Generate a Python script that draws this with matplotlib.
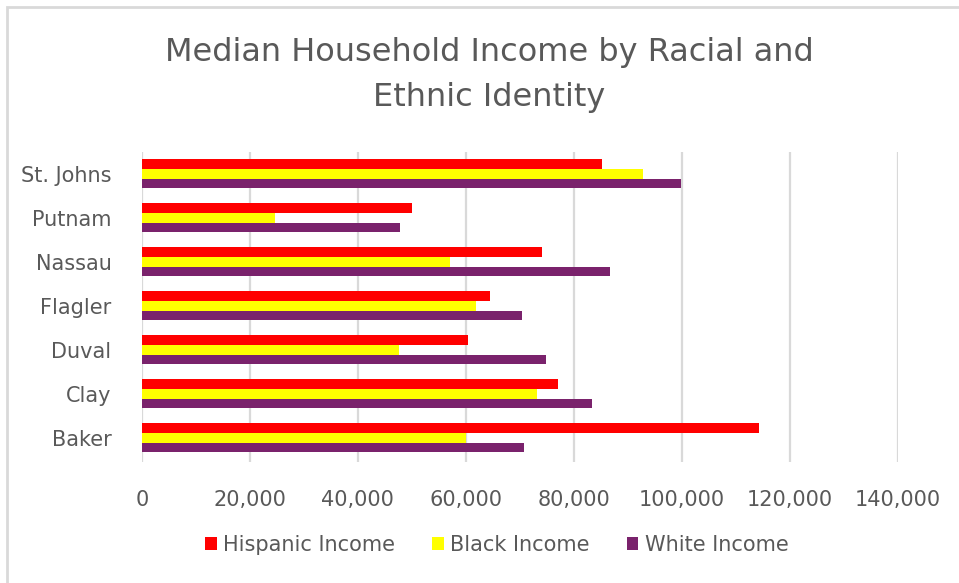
"""
Median household income by racial and ethnic identity, NE Florida counties
"""

import matplotlib.pyplot as plt
from matplotlib.patches import Rectangle
import numpy as np

counties = ["Baker", "Clay", "Duval", "Flagler", "Nassau", "Putnam", "St. Johns"]
hispanic_income = [114300, 77000, 60400, 64400, 74100, 50000, 85300]
black_income = [60100, 73200, 47600, 61800, 57000, 24600, 92800]
white_income = [70800, 83400, 74900, 70400, 86700, 47800, 99800]

x_ticks = [0, 20000, 40000, 60000, 80000, 100000, 120000, 140000]

text_color = "#595959"
grid_color = "#D9D9D9"


def plot():
    plt.rcParams['font.family'] = ['DejaVu Sans']
    fig = plt.figure(figsize=(9.59, 5.83), dpi=100)
    ax = fig.add_axes([0.148, 0.2075, 0.788, 0.532])

    y = np.arange(len(counties))
    h = 0.22
    ax.barh(y + h, hispanic_income, height=h, color="#FF0000", label="Hispanic Income", zorder=3)
    ax.barh(y, black_income, height=h, color="#FFFF00", label="Black Income", zorder=3)
    ax.barh(y - h, white_income, height=h, color="#7A226C", label="White Income", zorder=3)

    ax.set_xlim(0, 140000)
    ax.set_ylim(-0.55, 6.5)
    ax.set_xticks(x_ticks)
    ax.set_xticklabels([f"{v:,}" for v in x_ticks])
    ax.set_yticks(y)
    ax.set_yticklabels(counties)
    ax.tick_params(length=0, labelsize=15, labelcolor=text_color)
    ax.tick_params(axis='x', pad=20)
    ax.tick_params(axis='y', pad=22)
    ax.grid(axis='x', color=grid_color, linewidth=1.6, zorder=0)
    for s in ax.spines.values():
        s.set_visible(False)

    fig.text(0.51, 0.871, "Median Household Income by Racial and\nEthnic Identity",
             ha='center', va='center', fontsize=23, color=text_color, linespacing=1.6)

    fig.legend(loc='center', bbox_to_anchor=(0.518, 0.065), ncol=3, frameon=False,
               fontsize=15, labelcolor=text_color, handlelength=0.55, handleheight=0.55,
               handletextpad=0.3, columnspacing=1.8)

    # chart border (only top and left edge are visible in the reference)
    fig.patches.append(Rectangle((7 / 959, -0.1), 1.2, 1 - 7 / 583 + 0.1,
                                 transform=fig.transFigure, fill=False,
                                 edgecolor=grid_color, linewidth=2))

    fig.savefig("out.png", dpi=100)


if __name__ == "__main__":
    plot()
